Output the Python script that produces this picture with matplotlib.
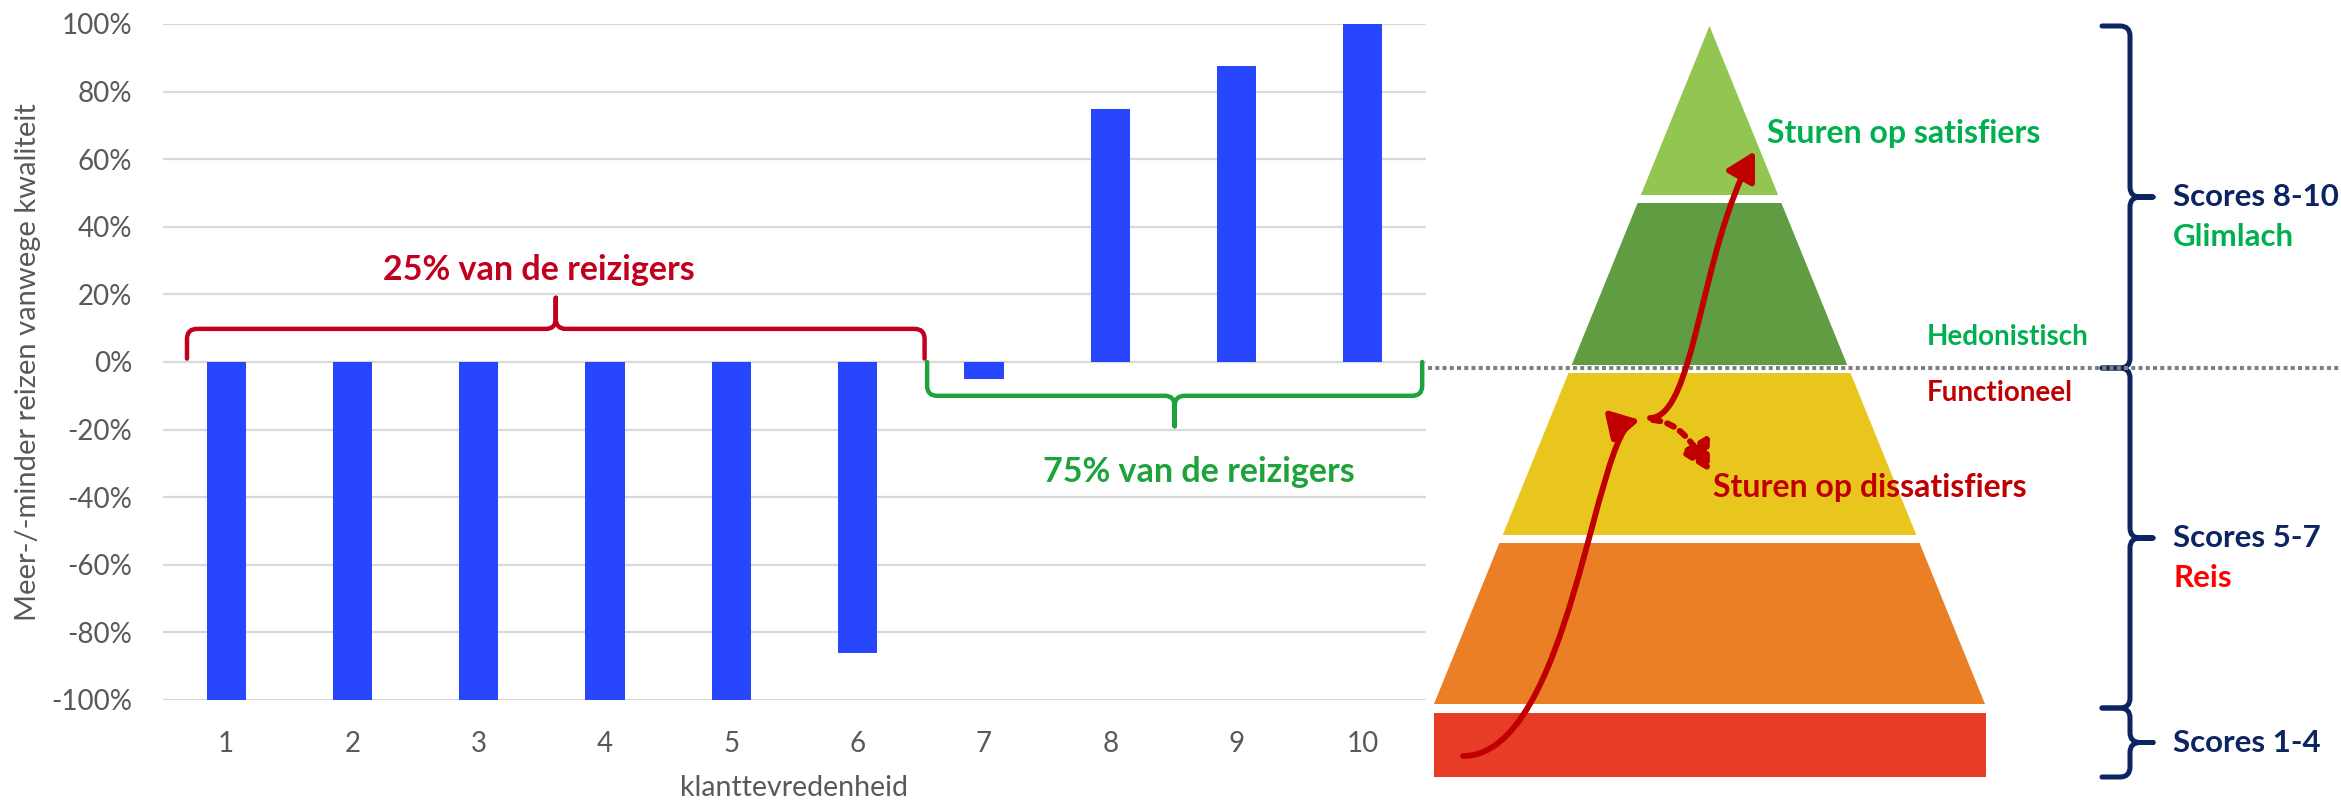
import numpy as np
import matplotlib
matplotlib.use("Agg")
import matplotlib.pyplot as plt
from matplotlib.path import Path
from matplotlib.patches import Polygon, Rectangle, PathPatch, FancyArrowPatch

plt.rcParams['font.family'] = ['Lato', 'DejaVu Sans']

# --- gegevens -------------------------------------------------------------
scores = [1, 2, 3, 4, 5, 6, 7, 8, 9, 10]
meer_minder = [-1.00, -1.00, -1.00, -1.00, -1.00, -0.86, -0.05, 0.75, 0.875, 1.00]
y_ticks = [-1.0, -0.8, -0.6, -0.4, -0.2, 0.0, 0.2, 0.4, 0.6, 0.8, 1.0]

groep_teksten = ["25% van de reizigers", "75% van de reizigers"]
groep_kleuren = ['#C0001E', '#1EA23A']

piramide_kleuren = ['#92C650', '#5F9C42', '#E9C61E', '#EA7F26', '#E73D27']
score_labels = ["Scores 8-10", "Scores 5-7", "Scores 1-4"]
score_subtitels = ["Glimlach", "Reis", ""]
subtitel_kleuren = ['#00B050', '#FF0000', '#FF0000']

W, H = 2341, 802
GRIJS = '#595959'
NAVY = '#0C2461'
DONKERROOD = '#C00000'

fig = plt.figure(figsize=(W / 100, H / 100), dpi=100)

# --- staafdiagram -----------------------------------------------------------
ax = fig.add_axes([163 / W, (H - 700) / H, (1426 - 163) / W, (700 - 24) / H])
ax.bar(scores, meer_minder, width=0.31, color='#2946FF', zorder=3)
ax.set_xlim(0.5, 10.5)
ax.set_ylim(-1, 1)
ax.set_xticks(scores)
ax.set_yticks(y_ticks)
ax.set_yticklabels([f"{int(round(v * 100))}%" for v in y_ticks])
ax.grid(axis='y', color='#D9D9D9', lw=1.6)
ax.set_axisbelow(True)
for s in ax.spines.values():
    s.set_visible(False)
ax.tick_params(axis='both', length=0, labelsize=20, labelcolor=GRIJS)
ax.tick_params(axis='y', pad=22)
ax.tick_params(axis='x', pad=22)

ax.set_ylabel("Meer-/-minder reizen vanwege kwaliteit", fontsize=21, color=GRIJS)
ax.yaxis.label.set_va('center')
ax.yaxis.set_label_coords(-0.107, 0.5)
ax.set_xlabel("klanttevredenheid", fontsize=20.5, color=GRIJS)
ax.xaxis.label.set_va('center')
ax.xaxis.set_label_coords(0.5, -0.130)

# --- overlay in pixels voor accolades, piramide en pijlen -------------------
ov = fig.add_axes([0, 0, 1, 1], zorder=5)
ov.set_xlim(0, W)
ov.set_ylim(H, 0)
ov.axis('off')
ov.patch.set_visible(False)


def naar_px(x, y):
    d = ax.transData.transform((x, y))
    return d[0], H - d[1]


def accolade(u0, u1, v_end, v_lijn, v_punt, r, naar_xy, kleur, lw):
    um = (u0 + u1) / 2
    s = np.sign(v_punt - v_lijn)
    pts = [(u0, v_end), (u0, v_lijn - s * r), (u0, v_lijn), (u0 + r, v_lijn),
           (um - r, v_lijn), (um, v_lijn), (um, v_lijn + s * r), (um, v_punt),
           (um, v_lijn + s * r), (um, v_lijn), (um + r, v_lijn),
           (u1 - r, v_lijn), (u1, v_lijn), (u1, v_lijn - s * r), (u1, v_end)]
    M, L, C = Path.MOVETO, Path.LINETO, Path.CURVE3
    codes = [M, L, C, C, L, C, C, L, L, C, C, L, C, C, L]
    verts = [naar_xy(u, v) for u, v in pts]
    ov.add_patch(PathPatch(Path(verts, codes), fill=False, edgecolor=kleur,
                           lw=lw, capstyle='round', joinstyle='round'))


# accolades boven/onder de staven (in datacoordinaten)
x0, y_end = naar_px(0.69, 0.01)
x1, y_lijn = naar_px(6.53, 0.098)
_, y_punt = naar_px(0, 0.19)
accolade(x0, x1, -y_end, -y_lijn, -y_punt, 10, lambda u, v: (u, -v),
         groep_kleuren[0], 3.2)
x0, y_end = naar_px(6.55, 0.0)
x1, y_lijn = naar_px(10.47, -0.10)
_, y_punt = naar_px(0, -0.19)
accolade(x0, x1, y_end, y_lijn, y_punt, 10, lambda u, v: (u, v),
         groep_kleuren[1], 3.2)

ax.text(3.475, 0.272, groep_teksten[0], color=groep_kleuren[0], fontsize=24.5,
        fontweight='bold', ha='center', va='center', zorder=6)
ax.text(8.70, -0.325, groep_teksten[1], color=groep_kleuren[1], fontsize=24.5,
        fontweight='bold', ha='center', va='center', zorder=6)

# piramide
top_x, top_y = 1709.5, 26
helling = 275.5 / (704 - 26)
lagen = [(26, 195), (203, 365), (373, 535), (543, 704)]
for (yt, yb), kleur in zip(lagen, piramide_kleuren[:4]):
    ht, hb = (yt - top_y) * helling, (yb - top_y) * helling
    ov.add_patch(Polygon([(top_x - ht, yt), (top_x + ht, yt),
                          (top_x + hb, yb), (top_x - hb, yb)],
                         closed=True, color=kleur, lw=0))
ov.add_patch(Rectangle((top_x - 276, 713), 552, 64, color=piramide_kleuren[4], lw=0))

# stippellijn hedonistisch / functioneel
ov.plot([1428, W], [368, 368], color='#808080', lw=2.9, ls=(0, (1.0, 0.8)),
        zorder=2)

# pijlen
C4 = Path.CURVE4
pijl1 = Path([(1463, 756), (1570, 756), (1595, 430), (1640, 420)],
             [Path.MOVETO, C4, C4, C4])
pijl2 = Path([(1650, 418), (1695, 418), (1700, 250), (1755, 151)],
             [Path.MOVETO, C4, C4, C4])
pijl3 = Path([(1653, 420), (1678, 422), (1693, 442), (1710, 472)],
             [Path.MOVETO, C4, C4, C4])
for p in (pijl1, pijl2):
    ov.add_patch(FancyArrowPatch(path=p, arrowstyle='-|>,head_length=0.45,head_width=0.25',
                                 mutation_scale=38, color=DONKERROOD, lw=4.2,
                                 zorder=4))
ov.add_patch(FancyArrowPatch(path=pijl3, arrowstyle='-|>,head_length=0.45,head_width=0.25',
                             mutation_scale=38, color=DONKERROOD, lw=4.4,
                             linestyle=(0, (1.2, 1.2)), zorder=4))

# teksten bij de piramide
ov.text(1767, 133, "Sturen op satisfiers", color='#00B050', fontsize=23,
        fontweight='bold', va='center', ha='left')
ov.text(1927, 337, "Hedonistisch", color='#00B050', fontsize=20,
        fontweight='bold', va='center', ha='left')
ov.text(1927, 393, "Functioneel", color=DONKERROOD, fontsize=20,
        fontweight='bold', va='center', ha='left')
ov.text(1713, 488, "Sturen op dissatisfiers", color=DONKERROOD, fontsize=23,
        fontweight='bold', va='center', ha='left')

# accolades rechts met scores
bereiken = [(26, 368), (368, 708), (708, 777)]
for (a, b), lab, sub, sk in zip(bereiken, score_labels, score_subtitels, subtitel_kleuren):
    accolade(a, b, 2102, 2130, 2153, 10, lambda u, v: (v, u), NAVY, 3.6)
    mid = (a + b) / 2
    ov.text(2173, mid, lab, color=NAVY, fontsize=22.5, fontweight='bold',
            va='center', ha='left')
    if sub:
        ov.text(2173, mid + 40, sub, color=sk, fontsize=22.5, fontweight='bold',
                va='center', ha='left')

fig.savefig("out.png", dpi=100)
